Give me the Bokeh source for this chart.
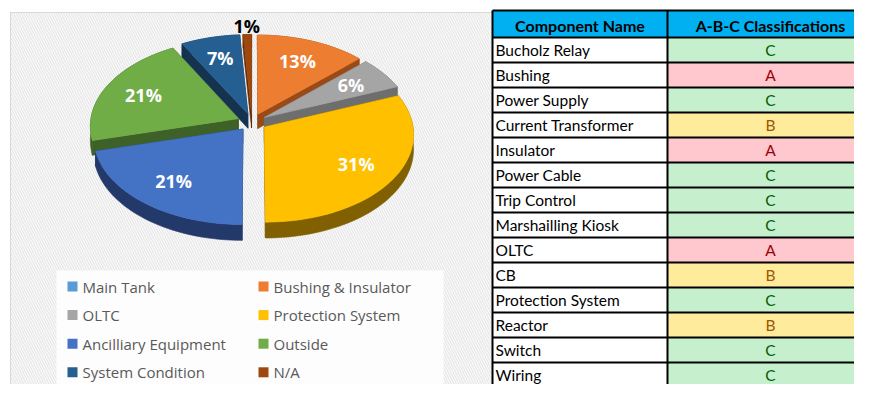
import numpy as np
from bokeh.plotting import figure
from bokeh.models import Range1d
from bokeh.embed import file_html
from bokeh.resources import INLINE
from bokeh.core.properties import value

# ---------------- data ----------------
categories = ["Main Tank", "Bushing & Insulator", "OLTC", "Protection System",
              "Ancilliary Equipment", "Outside", "System Condition", "N/A"]
shares = [0, 13, 6, 31, 21, 21, 7, 1]
slice_colors = ["#5B9BD5", "#ED7D31", "#A5A5A5", "#FFC000",
                "#4472C4", "#70AD47", "#255E91", "#9E480E"]
side_colors = ["#36648F", "#9A4A16", "#6E6E6E", "#806000",
               "#22396A", "#3D6127", "#15334F", "#5E2A08"]

header = ["Component Name", "A-B-C Classifications"]
components = ["Bucholz Relay", "Bushing", "Power Supply", "Current Transformer",
              "Insulator", "Power Cable", "Trip Control", "Marshailling Kiosk",
              "OLTC", "CB", "Protection System", "Reactor", "Switch", "Wiring"]
classes = ["C", "A", "C", "B", "A", "C", "C", "C", "A", "B", "C", "B", "C", "C"]
class_fill = {"A": "#FFC7CE", "B": "#FFEB9C", "C": "#C6EFCE"}
class_text = {"A": "#9C0006", "B": "#9C5700", "C": "#006100"}

# ---------------- figure ----------------
W, H = 854, 384
p = figure(width=W, height=H, output_backend="svg", toolbar_location=None,
           x_range=Range1d(0, W), y_range=Range1d(H, 0),
           min_border=0)
p.axis.visible = False
p.grid.visible = False
p.outline_line_color = None
p.background_fill_color = "white"
p.border_fill_color = "white"

# chart panel with diagonal hatch
p.quad(left=[10], right=[492], top=[12], bottom=[420],
       fill_color="#FAFAFA", line_color="#D9D9D9", line_width=1,
       hatch_pattern="\\", hatch_color="#E2E2E2", hatch_scale=5, hatch_weight=1)
# legend background
p.quad(left=[56], right=[443], top=[270], bottom=[395],
       fill_color="#FDFDFD", line_color=None)

# ---------------- 3D pie ----------------
cx, cy, Rx, Ry = 251.5, 121.6, 148.0, 86.7
persp, explode, depth = 0.08, 0.1, 14.5


def proj(X, Y, z):
    s = 1.0 / (1.0 + persp * Y)
    return cx + Rx * X * s, cy - Ry * Y * s + depth * z * s


total = float(sum(shares))
slices = []
cum = 0.0
for i, v in enumerate(shares):
    a = cum / total * 2 * np.pi
    b = (cum + v) / total * 2 * np.pi
    cum += v
    if v <= 0:
        continue
    m = 0.5 * (a + b)
    slices.append((np.cos(m), i, a, b, m, v))
slices.sort(key=lambda t: -t[0])  # back first

xs, ys, fills = [], [], []
lab_x, lab_y, lab_t, lab_c = [], [], [], []
for _, i, a, b, m, v in slices:
    ex, ey = explode * np.sin(m), explode * np.cos(m)
    n = max(3, int(np.degrees(b - a) / 2))
    ts = np.linspace(a, b, n)
    tx0, ty0 = proj(ex + np.sin(ts), ey + np.cos(ts), 0)
    tx1, ty1 = proj(ex + np.sin(ts), ey + np.cos(ts), 1)
    c0x, c0y = proj(ex, ey, 0)
    c1x, c1y = proj(ex, ey, 1)
    for k in (0, -1):
        xs.append([c0x, tx0[k], tx1[k], c1x])
        ys.append([c0y, ty0[k], ty1[k], c1y])
        fills.append(side_colors[i])
    xs.append(list(tx0) + list(tx1[::-1]))
    ys.append(list(ty0) + list(ty1[::-1]))
    fills.append(side_colors[i])
    xs.append([c0x] + list(tx0))
    ys.append([c0y] + list(ty0))
    fills.append(slice_colors[i])
    r = 0.72 if v >= 3 else 1.12
    lx, ly = proj(ex + r * np.sin(m), ey + r * np.cos(m), 0)
    lab_x.append(lx)
    lab_y.append(ly)
    lab_t.append(f"{v}%")
    lab_c.append("white" if v >= 3 else "black")

p.patches(xs=xs, ys=ys, fill_color=fills, line_color=fills, line_width=0.6)
p.text(x=lab_x, y=lab_y, text=lab_t, text_color=lab_c,
       text_font=value("Open Sans"), text_font_style="bold",
       text_font_size="18px", text_align="center", text_baseline="middle")

# ---------------- legend ----------------
lg_sx = [67 + (i % 2) * 191 for i in range(len(categories))]
lg_y = [286 + (i // 2) * 28.6 for i in range(len(categories))]
p.rect(x=[s + 5 for s in lg_sx], y=lg_y, width=10, height=10,
       fill_color=slice_colors, line_color=None)
p.text(x=[s + 15 for s in lg_sx], y=lg_y, text=categories,
       text_color="#595959", text_font=value("Open Sans"),
       text_font_size="15px", text_baseline="middle", text_align="left")

# ---------------- table ----------------
tx_left, tx_mid, tx_right = 492, 667, 880
top_y, head_h, row_h = 10, 27, 25.0
n_rows = len(components)
row_top = [top_y + head_h + row_h * k for k in range(n_rows)]
row_mid = [t + row_h / 2 for t in row_top]

p.quad(left=[tx_left], right=[tx_right], top=[top_y], bottom=[top_y + head_h],
       fill_color="#00B0F0", line_color=None)
p.text(x=[(tx_left + tx_mid) / 2, (tx_mid + tx_right) / 2 - 3.5],
       y=[top_y + head_h / 2 + 1] * 2, text=header, text_color="black",
       text_font=value("Lato"), text_font_style="bold", text_font_size="16px",
       text_align="center", text_baseline="middle")

p.quad(left=[tx_left] * n_rows, right=[tx_mid] * n_rows, top=row_top,
       bottom=[t + row_h for t in row_top], fill_color="white", line_color=None)
p.quad(left=[tx_mid] * n_rows, right=[tx_right] * n_rows, top=row_top,
       bottom=[t + row_h for t in row_top],
       fill_color=[class_fill[c] for c in classes], line_color=None)
p.text(x=[tx_left + 3] * n_rows, y=row_mid, text=components, text_color="black",
       text_font=value("Lato"), text_font_size="15.5px",
       text_align="left", text_baseline="middle")
p.text(x=[(tx_mid + tx_right) / 2 - 3.5] * n_rows, y=row_mid, text=classes,
       text_color=[class_text[c] for c in classes],
       text_font=value("Lato"), text_font_size="15.5px",
       text_align="center", text_baseline="middle")

h_lines = [top_y, top_y + head_h] + [t + row_h for t in row_top]
p.segment(x0=[tx_left] * len(h_lines), x1=[tx_right] * len(h_lines),
          y0=h_lines, y1=h_lines, line_color="black", line_width=2)
p.segment(x0=[tx_left, tx_mid], x1=[tx_left, tx_mid],
          y0=[top_y, top_y], y1=[top_y + head_h + row_h * n_rows] * 2,
          line_color="black", line_width=2)

open("out.html", "w").write(file_html(p, INLINE))
